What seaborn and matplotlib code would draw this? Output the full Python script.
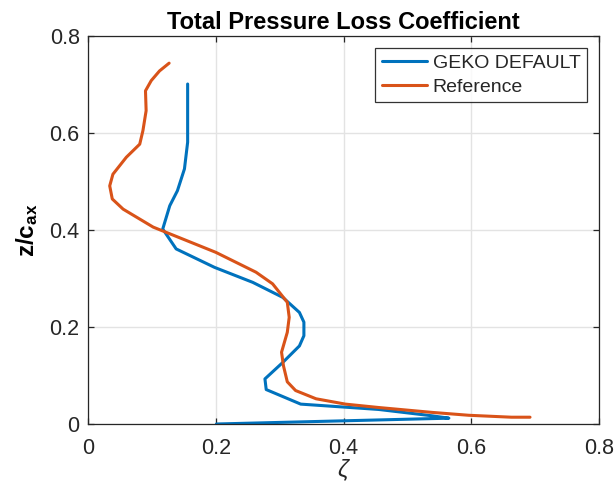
import matplotlib
matplotlib.use("Agg")
import matplotlib.pyplot as plt
import seaborn as sns
import pandas as pd

# GEKO DEFAULT (top to bottom along the curve)
geko_zeta = [0.156, 0.156, 0.151, 0.140, 0.128, 0.117, 0.138, 0.198, 0.258, 0.305,
             0.331, 0.338, 0.338, 0.331, 0.305, 0.277, 0.279, 0.333, 0.455, 0.538,
             0.565, 0.201]
geko_z = [0.701, 0.581, 0.526, 0.481, 0.450, 0.402, 0.361, 0.323, 0.292, 0.261,
          0.230, 0.210, 0.182, 0.161, 0.127, 0.093, 0.071, 0.041, 0.030, 0.017,
          0.012, 0.0]

# Reference (top to bottom along the curve)
ref_zeta = [0.127, 0.112, 0.099, 0.090, 0.091, 0.086, 0.081, 0.060, 0.039, 0.034,
            0.038, 0.055, 0.102, 0.200, 0.263, 0.289, 0.312, 0.315, 0.312, 0.303,
            0.306, 0.312, 0.325, 0.357, 0.403, 0.455, 0.538, 0.596, 0.663, 0.692]
ref_z = [0.744, 0.728, 0.708, 0.687, 0.646, 0.605, 0.577, 0.550, 0.515, 0.491,
         0.464, 0.443, 0.406, 0.354, 0.313, 0.289, 0.251, 0.220, 0.189, 0.148,
         0.120, 0.087, 0.069, 0.052, 0.041, 0.034, 0.024, 0.018, 0.014, 0.014]

series_names = ["GEKO DEFAULT", "Reference"]
series_colors = ["#0072BD", "#D95319"]
xticks = [0, 0.2, 0.4, 0.6, 0.8]
yticks = [0, 0.2, 0.4, 0.6, 0.8]
xtick_labels = ["0", "0.2", "0.4", "0.6", "0.8"]
ytick_labels = ["0", "0.2", "0.4", "0.6", "0.8"]

df = pd.concat([
    pd.DataFrame({"zeta": geko_zeta, "z": geko_z, "series": series_names[0]}),
    pd.DataFrame({"zeta": ref_zeta, "z": ref_z, "series": series_names[1]}),
], ignore_index=True)

sns.set_style("ticks")
plt.rcParams["font.family"] = ["Liberation Sans", "DejaVu Sans"]
plt.rcParams["mathtext.fontset"] = "custom"
plt.rcParams["mathtext.rm"] = "Liberation Sans"
plt.rcParams["mathtext.it"] = "Liberation Sans:italic"
plt.rcParams["mathtext.bf"] = "Liberation Sans:bold"

fig = plt.figure(figsize=(6.14, 4.94), dpi=100)
ax = fig.add_axes([88 / 614, 1 - 424 / 494, (599 - 88) / 614, (424 - 36) / 494])

sns.lineplot(data=df, x="zeta", y="z", hue="series", sort=False, estimator=None,
             palette=dict(zip(series_names, series_colors)), linewidth=2.2, ax=ax)

ax.set_xlim(0, 0.8)
ax.set_ylim(0, 0.8)
ax.set_xticks(xticks)
ax.set_xticklabels(xtick_labels)
ax.set_yticks(yticks)
ax.set_yticklabels(ytick_labels)
ax.grid(True, color="#e3e3e3", linewidth=1.0)
ax.set_axisbelow(True)
dark = "#262626"
for s in ax.spines.values():
    s.set_visible(True)
    s.set_color(dark)
    s.set_linewidth(0.9)
ax.tick_params(axis="both", direction="in", top=True, right=True, length=4,
               width=0.9, color=dark, labelcolor=dark, labelsize=15.5)
ax.tick_params(axis="x", pad=10)
ax.tick_params(axis="y", pad=6)

ax.set_title("Total Pressure Loss Coefficient", fontsize=17, fontweight="bold",
             color="black", pad=5)
ax.set_xlabel(r"$\zeta$", fontsize=17, color=dark, labelpad=-1)
ax.set_ylabel(r"$\mathbf{z/c_{ax}}$", fontsize=17.5, color="black", labelpad=7)

leg = ax.legend(loc="upper right", fontsize=14, frameon=True, fancybox=False,
                edgecolor="black", handlelength=2.3, handletextpad=0.3,
                borderaxespad=0.6, labelspacing=0.3, borderpad=0.35)
leg.get_frame().set_linewidth(0.9)
leg.set_title(None)

fig.savefig("out.png", dpi=100)
